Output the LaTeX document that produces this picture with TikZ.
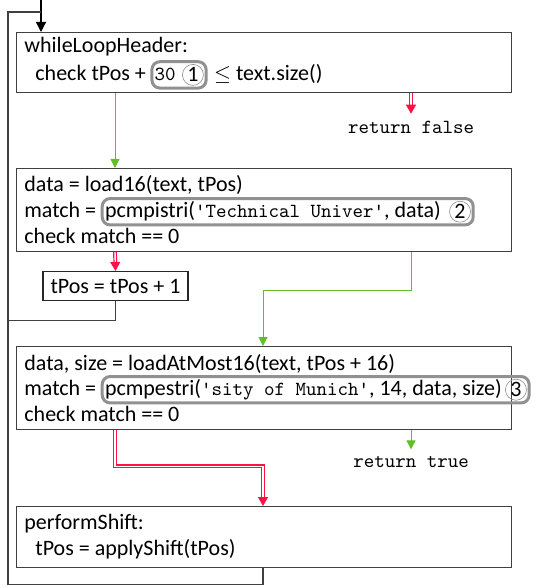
\documentclass[tikz,border=0pt]{standalone}
\usepackage{fontspec}
\setmainfont{Carlito}
\usetikzlibrary{positioning,fit,arrows.meta}
\newcommand\mono[1]{{\fontsize{10}{13}\ttfamily #1}}
\begin{document}
\begin{tikzpicture}[x=0.5pt, y=-0.5pt, font=\fontsize{11}{13}\selectfont]
    \definecolor{no-red}{RGB}{255,17,68}
    \definecolor{yes-green}{RGB}{98,190,40}
    \definecolor{hl-gray}{RGB}{145,145,145}
    \tikzset{
      blk/.style={draw=black!75, line width=0.6pt, minimum width=247.5pt, anchor=north west, inner sep=0pt},
      ln/.style={anchor=base west, inner sep=0pt},
      num/.style={circle, draw=black!45, line width=0.3pt, inner sep=0.5pt, minimum size=10.5pt},
      hl/.style={draw=hl-gray, line width=1.5pt, rounded corners=4pt, inner sep=1.2pt},
      yes/.style={draw=yes-green, line width=0.5pt, -{Triangle[length=4.5pt,width=4.5pt]}},
      no/.style={draw=no-red, double=white, double distance=0.7pt, line width=0.6pt, -{Triangle[length=4.5pt,width=5pt]}},
      wire/.style={draw=black!75, line width=0.6pt}
    }
    \useasboundingbox (0,0) rectangle (534,587);
    \coordinate (colA) at (115,0);
    \coordinate (colB) at (263,0);
    \coordinate (colC) at (411,0);
    \coordinate (entry) at (41,0);
    \coordinate (loop) at (8,12);

    \node[blk, minimum height=30pt] (head) at (16,32) {};
    \node[ln] (h1) at (24,53) {whileLoopHeader:};
    \node[ln] (h2) at (35,81) {check tPos +};
    \node[ln, right=4pt of h2.base east, anchor=base west] (h30) {\mono{30}};
    \node[num, right=3pt of h30] (n1) {1};
    \node[hl, fit=(h30)(n1)] (hl1) {};
    \node[ln, right=3pt of hl1.east |- h2.base, anchor=base west] (h3) {$\leq$ text.size()};
    \node (rfalse) at (411,127) {\mono{return false}};

    \node[blk, minimum height=41.5pt] (body1) at (16,168) {};
    \node[ln] (a1) at (24,192) {data = load16(text, tPos)};
    \node[ln] (a2) at (24,218) {match =};
    \node[ln, right=4pt of a2.base east, anchor=base west] (call1) {pcmpistri(\mono{\textquotesingle Technical Univer\textquotesingle}, data)};
    \node[num, right=4pt of call1] (n2) {2};
    \node[hl, fit=(call1)(n2)] (hl2) {};
    \node[ln] (a3) at (24,243) {check match == 0};
    \node[draw=black!85, line width=0.6pt, minimum width=72.5pt, minimum height=14.5pt, inner sep=0pt] (inc) at (115.5,286) {tPos = tPos + 1};

    \node[blk, minimum height=41.5pt] (body2) at (16,346) {};
    \node[ln] (b1) at (24,370) {data, size = loadAtMost16(text, tPos + 16)};
    \node[ln] (b2) at (24,395.5) {match =};
    \node[ln, right=4pt of b2.base east, anchor=base west] (call2) {pcmpestri(\mono{\textquotesingle sity of Munich\textquotesingle}, 14, data, size)};
    \node[num, right=1.5pt of call2] (n3) {3};
    \node[hl, fit=(call2)(n3)] (hl3) {};
    \node[ln] (b3) at (24,421) {check match == 0};
    \node (rtrue) at (411,462) {\mono{return true}};

    \node[blk, minimum height=30.5pt] (shift) at (16,506) {};
    \node[ln] (s1) at (24,529) {performShift:};
    \node[ln] (s2) at (35,555) {tPos = applyShift(tPos)};

    \draw[-{Triangle[length=5pt,width=5pt]}, line width=0.6pt] (entry) -- (head.north -| entry);
    \draw[no] (head.south -| colC) -- (rfalse.north);
    \draw[yes] (head.south -| colA) -- (body1.north -| colA);
    \draw[no] (body1.south -| colA) -- (inc.north);
    \draw[wire] (inc.south) -- ++(0,19) coordinate (t) -- (t -| loop);
    \draw[yes] (body1.south -| colC) -- ++(0,38) -| (body2.north -| colB);
    \draw[yes] (body2.south -| colC) -- (rtrue.north);
    \draw[no] (body2.south -| colA) -- ++(0,36) -| (shift.north -| colB);
    \draw[wire] (shift.south -| colB) -- ++(0,16) -| (loop) -- (loop -| entry);
\end{tikzpicture}
\end{document}
